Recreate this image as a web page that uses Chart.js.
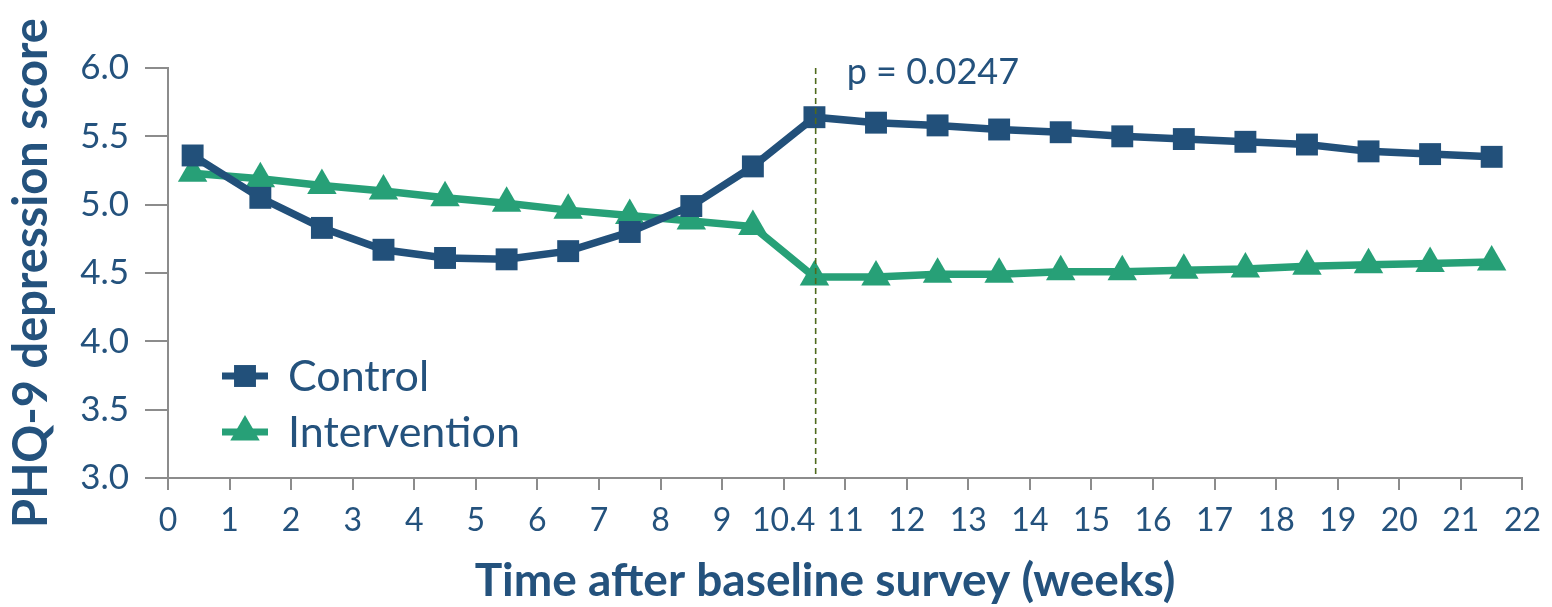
<!DOCTYPE html>
<html>
<head>
<meta charset="utf-8">
<script src="https://cdn.jsdelivr.net/npm/chart.js@4"></script>
<style>
  html, body { margin: 0; padding: 0; background: #ffffff; }
  #wrap { width: 1552px; height: 607px; position: relative; }
</style>
</head>
<body>
<div id="wrap"><canvas id="c"></canvas></div>
<script>
// ---- data ----
const weeks = [0.4, 1.5, 2.5, 3.5, 4.5, 5.5, 6.5, 7.5, 8.5, 9.5, 10.5, 11.5, 12.5, 13.5, 14.5, 15.5, 16.5, 17.5, 18.5, 19.5, 20.5, 21.5];
const controlScores = [5.36, 5.05, 4.83, 4.67, 4.61, 4.60, 4.66, 4.80, 4.99, 5.28, 5.64, 5.60, 5.58, 5.55, 5.53, 5.50, 5.48, 5.46, 5.44, 5.39, 5.37, 5.35];
const interventionScores = [5.23, 5.19, 5.14, 5.10, 5.05, 5.01, 4.96, 4.92, 4.88, 4.84, 4.47, 4.47, 4.49, 4.49, 4.51, 4.51, 4.52, 4.53, 4.55, 4.56, 4.57, 4.58];
const xTickLabels = ['0','1','2','3','4','5','6','7','8','9','10.4','11','12','13','14','15','16','17','18','19','20','21','22'];
const seriesNames = ['Control', 'Intervention'];
const cutoffWeek = 10.52;
const pValueText = 'p = 0.0247';
const xTitle = 'Time after baseline survey (weeks)';
const yTitle = 'PHQ-9 depression score';

// ---- styles ----
const BLUE = '#22507a';
const GREEN = '#27a077';
const TEXT = '#24527d';
const AXIS = '#8c8c8c';
const FONT = 'Lato, "Open Sans", "DejaVu Sans", sans-serif';

function toPoints(xs, ys) { return xs.map((x, i) => ({ x: x, y: ys[i] })); }

function drawMarker(ctx, style, x, y, r, color) {
  ctx.save();
  ctx.fillStyle = color;
  ctx.beginPath();
  if (style === 'rect') {
    const s = Math.SQRT1_2 * r;
    ctx.rect(x - s, y - s, 2 * s, 2 * s);
  } else {
    const a = Math.PI / 3 * 2;
    ctx.moveTo(x, y - r);
    ctx.lineTo(x + Math.sin(a) * r, y - Math.cos(a) * r);
    ctx.lineTo(x - Math.sin(a) * r, y - Math.cos(a) * r);
    ctx.closePath();
  }
  ctx.fill();
  ctx.restore();
}

const overlay = {
  id: 'overlay',
  afterDatasetsDraw(chart) {
    const ctx = chart.ctx;
    const xs = chart.scales.x;
    const area = chart.chartArea;
    // dashed cutoff line
    const lx = xs.getPixelForValue(cutoffWeek);
    ctx.save();
    ctx.strokeStyle = '#4f6a1c';
    ctx.lineWidth = 1.6;
    ctx.setLineDash([6, 4]);
    ctx.beginPath();
    ctx.moveTo(lx, area.top);
    ctx.lineTo(lx, area.bottom);
    ctx.stroke();
    ctx.restore();
    // p-value label
    ctx.save();
    ctx.fillStyle = TEXT;
    ctx.font = '36px ' + FONT;
    ctx.textAlign = 'left';
    ctx.textBaseline = 'alphabetic';
    ctx.fillText(pValueText, lx + 31, 84);
    ctx.restore();
    // x axis title
    ctx.save();
    ctx.fillStyle = TEXT;
    ctx.font = 'bold 46px ' + FONT;
    ctx.textAlign = 'center';
    ctx.textBaseline = 'middle';
    ctx.fillText(xTitle, 825, 581);
    ctx.restore();
    // legend inside plot
    const ds = chart.data.datasets;
    const rows = [376, 432];
    ds.forEach((d, i) => {
      const y = rows[i];
      ctx.save();
      ctx.strokeStyle = d.borderColor;
      ctx.lineWidth = 7;
      ctx.beginPath();
      ctx.moveTo(222, y);
      ctx.lineTo(268, y);
      ctx.stroke();
      ctx.restore();
      drawMarker(ctx, d.pointStyle, 245, y, d.pointRadius, d.borderColor);
      ctx.save();
      ctx.fillStyle = TEXT;
      ctx.font = '43px ' + FONT;
      ctx.textAlign = 'left';
      ctx.textBaseline = 'middle';
      ctx.fillText(d.label, 288, y + 1);
      ctx.restore();
    });
  }
};

new Chart(document.getElementById('c'), {
  type: 'line',
  data: {
    datasets: [
      {
        label: seriesNames[0],
        data: toPoints(weeks, controlScores),
        borderColor: BLUE,
        backgroundColor: BLUE,
        borderWidth: 7.5,
        pointStyle: 'rect',
        pointRadius: 15.5,
        pointBorderWidth: 0,
        tension: 0,
        clip: false
      },
      {
        label: seriesNames[1],
        data: toPoints(weeks, interventionScores),
        borderColor: GREEN,
        backgroundColor: GREEN,
        borderWidth: 7.5,
        pointStyle: 'triangle',
        pointRadius: 17,
        pointBorderWidth: 0,
        tension: 0,
        clip: false
      }
    ]
  },
  options: {
    responsive: true,
    maintainAspectRatio: false,
    animation: false,
    layout: { padding: { top: 68, right: 27, left: 0, bottom: 0 } },
    plugins: { legend: { display: false }, tooltip: { enabled: false } },
    scales: {
      x: {
        type: 'linear',
        min: 0,
        max: 22,
        afterFit(scale) { scale.height = 129; },
        afterBuildTicks(scale) {
          scale.ticks = xTickLabels.map((_, i) => ({ value: i }));
        },
        ticks: {
          autoSkip: false,
          maxRotation: 0,
          padding: 11,
          color: TEXT,
          font: { family: FONT, size: 32 },
          callback: (v, i) => xTickLabels[i]
        },
        grid: {
          display: true,
          drawOnChartArea: false,
          drawTicks: true,
          tickLength: 12,
          color: AXIS,
          lineWidth: 2
        },
        border: { display: true, color: AXIS, width: 2 },
        title: { display: false }
      },
      y: {
        min: 3,
        max: 6,
        afterFit(scale) { scale.width = 168; },
        ticks: {
          stepSize: 0.5,
          padding: 16,
          color: TEXT,
          font: { family: FONT, size: 35 },
          callback: (v) => Number(v).toFixed(1)
        },
        grid: {
          display: true,
          drawOnChartArea: false,
          drawTicks: true,
          tickLength: 23,
          color: AXIS,
          lineWidth: 2
        },
        border: { display: true, color: AXIS, width: 2 },
        title: {
          display: true,
          text: yTitle,
          color: TEXT,
          font: { family: FONT, size: 47, weight: 'bold' },
          padding: { top: 4, bottom: 0 }
        }
      }
    }
  },
  plugins: [overlay]
});
</script>
</body>
</html>
